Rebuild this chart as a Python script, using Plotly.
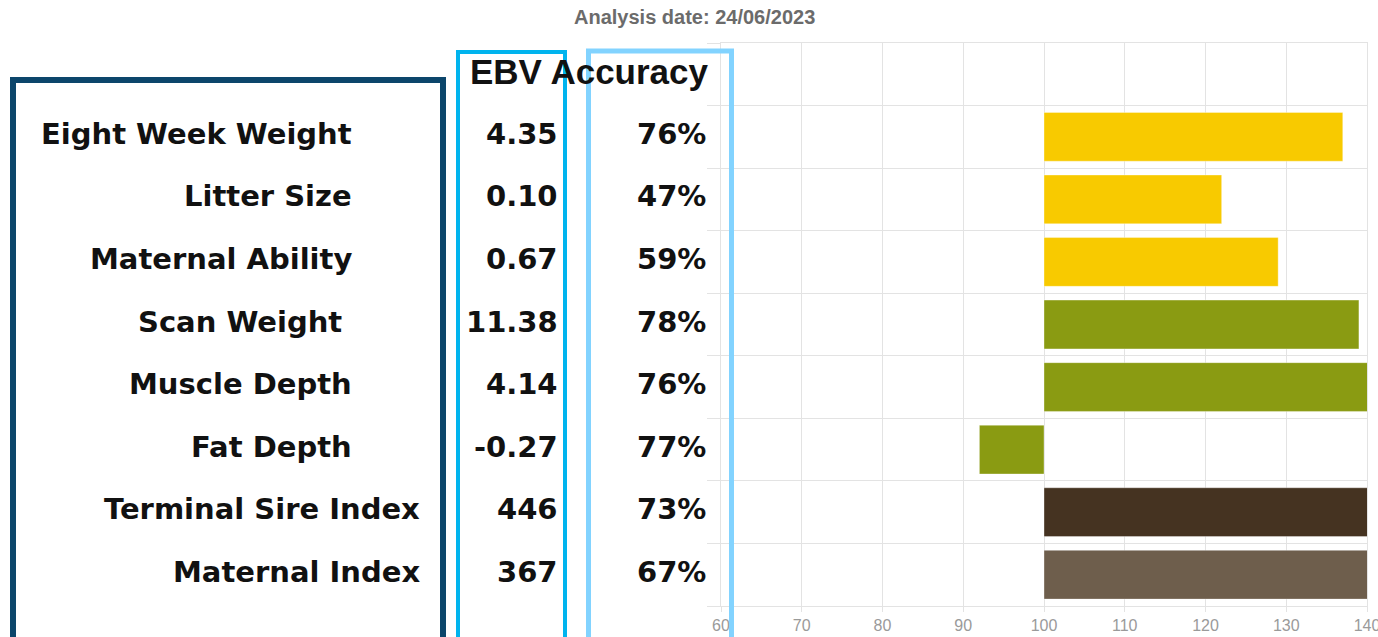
import plotly.graph_objects as go

# ---------------- data ----------------
analysis_date = "24/06/2023"
traits = ["Eight Week Weight", "Litter Size", "Maternal Ability", "Scan Weight\u00a0",
          "Muscle Depth", "Fat Depth", "Terminal Sire Index", "Maternal Index"]
ebv_values = ["4.35", "0.10", "0.67", "11.38", "4.14", "-0.27", "446", "367"]
accuracy_pct = [76, 47, 59, 78, 76, 77, 73, 67]
index_scores = [137, 122, 129, 139, 141, 92, 158, 152]
x_tick_values = [60, 70, 80, 90, 100, 110, 120, 130, 140]
index_base = 100

# ---------------- style ----------------
bar_colors = ["#F8CA00", "#F8CA00", "#F8CA00", "#8A9B12", "#8A9B12", "#8A9B12",
              "#453321", "#6E5E4C"]
label_right_px = [354, 354, 354, 354, 354, 354, 422, 422]
W, H = 1378, 637
ML, MR, MT, MB = 721, 11, 43, 31
PW, PH = W - ML - MR, H - MT - MB
GRID = "#e3e3e3"
TEXT_FONT = dict(family="DejaVu Sans, Liberation Sans, Arial", size=29, color="#111111", weight=700)


def px_x(p):
    return (p - ML) / PW


def px_y(p):
    return (H - MB - p) / PH


rows = list(range(1, len(traits) + 1))

fig = go.Figure()
fig.add_trace(go.Bar(
    y=rows,
    x=[v - index_base for v in index_scores],
    base=index_base,
    orientation="h",
    width=0.78,
    marker=dict(color=bar_colors, line=dict(color="rgba(255,255,255,0.35)", width=1)),
    hoverinfo="skip",
))

annotations = []
for i, r in enumerate(rows):
    annotations.append(dict(text=traits[i], xref="paper", yref="y", x=px_x(label_right_px[i]),
                            y=r, xanchor="right", yanchor="middle", showarrow=False,
                            font=TEXT_FONT, yshift=3))
    annotations.append(dict(text=ebv_values[i], xref="paper", yref="y", x=px_x(560),
                            y=r, xanchor="right", yanchor="middle", showarrow=False,
                            font=TEXT_FONT, yshift=3))
    annotations.append(dict(text=f"{accuracy_pct[i]}%", xref="paper", yref="y", x=px_x(708),
                            y=r, xanchor="right", yanchor="middle", showarrow=False,
                            font=TEXT_FONT, yshift=3))

annotations.append(dict(text="EBV Accuracy", xref="paper", yref="y", x=px_x(468), y=0,
                        xanchor="left", yanchor="middle", showarrow=False,
                        font=dict(family="Liberation Sans, Arial", size=35,
                                  color="#111111", weight=700), yshift=3))
annotations.append(dict(text=f"Analysis date: {analysis_date}", xref="paper", yref="paper",
                        x=px_x(694), y=px_y(17), xanchor="center", yanchor="middle",
                        showarrow=False,
                        font=dict(family="Liberation Sans, Arial", size=20, color="#6b6b6b",
                                  weight=700)))

shapes = [
    dict(type="rect", xref="paper", yref="paper", x0=px_x(13), x1=px_x(443),
         y0=px_y(660), y1=px_y(80), line=dict(color="#0C466B", width=6),
         fillcolor="rgba(0,0,0,0)", layer="above"),
    dict(type="rect", xref="paper", yref="paper", x0=px_x(458), x1=px_x(565),
         y0=px_y(660), y1=px_y(52), line=dict(color="#00B4EE", width=4),
         fillcolor="rgba(0,0,0,0)", layer="above"),
    dict(type="rect", xref="paper", yref="paper", x0=px_x(588.5), x1=px_x(731.5),
         y0=px_y(660), y1=px_y(51), line=dict(color="#82D3FF", width=5),
         fillcolor="rgba(0,0,0,0)", layer="above"),
]

fig.update_layout(
    width=W, height=H,
    margin=dict(l=ML, r=MR, t=MT, b=MB, pad=0, autoexpand=False),
    paper_bgcolor="white", plot_bgcolor="white",
    showlegend=False,
    annotations=annotations,
    shapes=shapes,
    xaxis=dict(range=[60, 140], tickvals=x_tick_values, showgrid=True, gridcolor=GRID,
               gridwidth=1, zeroline=False, showline=True, linecolor=GRID, mirror=True,
               ticks="outside", ticklen=5, tickcolor=GRID, automargin=False,
               ticklabeloverflow="allow",
               tickfont=dict(family="Liberation Sans Narrow, Liberation Sans, Arial",
                             size=16, color="#9a9a9a")),
    yaxis=dict(range=[len(traits) + 0.5, -0.5], tickvals=[r - 0.5 for r in range(len(traits) + 2)],
               showticklabels=False, showgrid=True, gridcolor=GRID, gridwidth=1,
               zeroline=False, showline=True, linecolor=GRID, mirror=True, automargin=False,
               ticks="outside", ticklen=13, tickcolor=GRID),
)

fig.write_html("out.html", config={"displayModeBar": False},
               post_script="document.body.style.margin='0';document.body.style.overflow='hidden';")
